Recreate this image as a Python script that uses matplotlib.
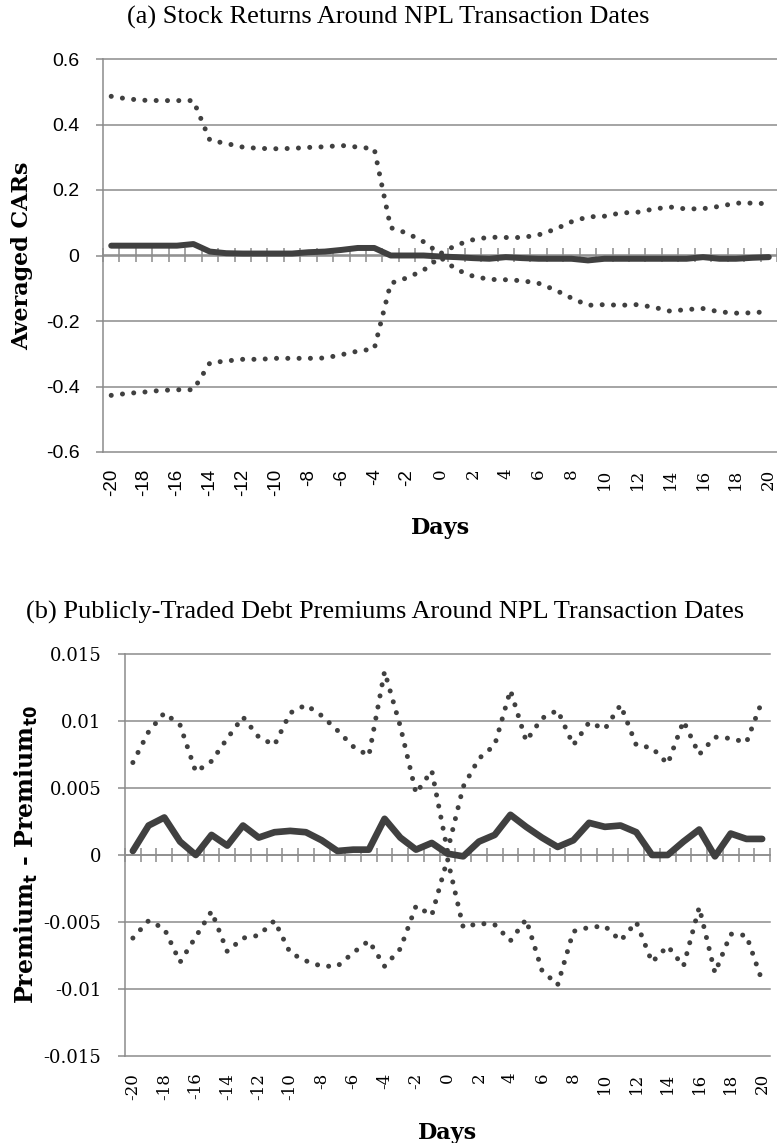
import matplotlib
matplotlib.use('Agg')
import matplotlib.pyplot as plt

# event window
days = list(range(-20, 21))

# (a) averaged CARs with confidence band
car_mean = [0.030, 0.030, 0.030, 0.030, 0.030, 0.035, 0.012, 0.007, 0.006, 0.006,
            0.006, 0.006, 0.010, 0.012, 0.017, 0.023, 0.023, 0.000, 0.000, 0.000,
            -0.003, -0.005, -0.008, -0.010, -0.005, -0.008, -0.010, -0.010, -0.010, -0.015,
            -0.010, -0.010, -0.010, -0.010, -0.010, -0.010, -0.005, -0.010, -0.010, -0.007,
            -0.005]
car_upper = [0.486, 0.478, 0.474, 0.473, 0.473, 0.473, 0.352, 0.342, 0.331, 0.327,
             0.326, 0.327, 0.330, 0.332, 0.336, 0.331, 0.326, 0.085, 0.068, 0.042,
             0.005, 0.032, 0.048, 0.056, 0.055, 0.055, 0.063, 0.080, 0.103, 0.118,
             0.120, 0.130, 0.132, 0.142, 0.148, 0.142, 0.143, 0.150, 0.160, 0.160,
             0.158]
car_lower = [-0.427, -0.421, -0.417, -0.412, -0.410, -0.410, -0.328, -0.322, -0.317, -0.317,
             -0.314, -0.314, -0.314, -0.313, -0.303, -0.292, -0.285, -0.085, -0.068, -0.045,
             -0.005, -0.043, -0.063, -0.073, -0.074, -0.077, -0.085, -0.105, -0.130, -0.152,
             -0.150, -0.152, -0.150, -0.158, -0.170, -0.165, -0.162, -0.172, -0.176, -0.175,
             -0.171]

# (b) debt premium change with confidence band
prem_mean = [0.0003, 0.0022, 0.0028, 0.0010, 0.0000, 0.0015, 0.0007, 0.0022, 0.0013, 0.0017,
             0.0018, 0.0017, 0.0011, 0.0003, 0.0004, 0.0004, 0.0027, 0.0013, 0.0004, 0.0009,
             0.0001, -0.0001, 0.0010, 0.0015, 0.0030, 0.0021, 0.0013, 0.0006, 0.0011, 0.0024,
             0.0021, 0.0022, 0.0017, 0.0000, 0.0000, 0.0010, 0.0019, -0.0001, 0.0016, 0.0012,
             0.0012]
prem_upper = [0.0069, 0.0092, 0.0106, 0.0097, 0.0062, 0.0070, 0.0087, 0.0103, 0.0088, 0.0082,
              0.0106, 0.0112, 0.0104, 0.0093, 0.0081, 0.0074, 0.0137, 0.0096, 0.0046, 0.0063,
              0.0003, 0.0051, 0.0072, 0.0082, 0.0123, 0.0085, 0.0102, 0.0108, 0.0082, 0.0099,
              0.0094, 0.0112, 0.0082, 0.0080, 0.0068, 0.0100, 0.0075, 0.0088, 0.0087, 0.0084,
              0.0115]
prem_lower = [-0.0062, -0.0049, -0.0055, -0.0080, -0.0061, -0.0042, -0.0072, -0.0062, -0.0060, -0.0049,
              -0.0073, -0.0079, -0.0083, -0.0083, -0.0073, -0.0064, -0.0083, -0.0070, -0.0038, -0.0045,
              -0.0003, -0.0054, -0.0051, -0.0052, -0.0064, -0.0048, -0.0086, -0.0097, -0.0057, -0.0054,
              -0.0053, -0.0064, -0.0050, -0.0080, -0.0068, -0.0083, -0.0039, -0.0088, -0.0059, -0.0060,
              -0.0094]

car_ticks = [0.6, 0.4, 0.2, 0, -0.2, -0.4, -0.6]
car_labels = ['0.6', '0.4', '0.2', '0', '-0.2', '-0.4', '-0.6']
prem_ticks = [0.015, 0.01, 0.005, 0, -0.005, -0.01, -0.015]
prem_labels = ['0.015', '0.01', '0.005', '0', '-0.005', '-0.01', '-0.015']
day_ticks = days[::2]
day_labels = [str(d) for d in day_ticks]

GRID = '#8c8c8c'
INK = '#404040'
SERIF = 'DejaVu Serif'
SANS = 'Liberation Sans'
DOTS = (0, (0.01, 2.25))


def draw_panel(ax, mean, upper, lower, yticks, ylabels, ylabel, ytick_font, xtick_font,
               mean_lw, ylab_x, ylab_size):
    ax.plot(days, upper, color=INK, lw=3.6, linestyle=DOTS, dash_capstyle='round', zorder=4)
    ax.plot(days, lower, color=INK, lw=3.6, linestyle=DOTS, dash_capstyle='round', zorder=4)
    ax.plot(days, mean, color=INK, lw=mean_lw, solid_joinstyle='round',
            solid_capstyle='round', zorder=5)

    ax.set_xlim(-20.5, 20.5)
    ax.set_ylim(yticks[-1], yticks[0])
    ax.set_yticks(yticks)
    ax.set_yticklabels(ylabels, fontfamily=ytick_font[0], fontsize=ytick_font[1])
    ax.grid(axis='y', color=GRID, lw=1.1)
    for gl in ax.yaxis.get_gridlines():
        gl.set_clip_on(False)
    ax.tick_params(axis='y', direction='out', length=5, width=1.1, color=GRID, pad=12)

    ax.set_xticks(day_ticks)
    ax.set_xticklabels(day_labels, rotation=90)
    for lab in ax.get_xticklabels():
        fam, size = xtick_font(lab.get_text())
        lab.set_fontfamily(fam)
        lab.set_fontsize(size)
    ax.tick_params(axis='x', length=0, pad=12)

    for s in ['top', 'right', 'bottom']:
        ax.spines[s].set_visible(False)
    ax.spines['left'].set_color(GRID)
    ax.spines['left'].set_linewidth(1.1)

    # category axis through zero with boundary ticks
    sec = ax.secondary_xaxis(0.5)
    sec.set_xticks([d - 0.5 for d in days] + [days[-1] + 0.5])
    sec.tick_params(direction='inout', length=10, width=1.1, color=GRID,
                    labelbottom=False, labeltop=False)
    for s in sec.spines.values():
        s.set_color(GRID)
        s.set_linewidth(1.1)

    ax.set_xlabel('Days', fontfamily=SERIF, fontweight='bold', fontsize=16)
    ax.xaxis.set_label_coords(0.5, -0.165)
    ax.set_ylabel(ylabel, fontfamily=SERIF, fontweight='bold', fontsize=ylab_size, va='center')
    ax.yaxis.set_label_coords(ylab_x, 0.5)


fig = plt.figure(figsize=(7.77, 11.43), dpi=100)

ax1 = fig.add_axes([103 / 777, 1 - 452 / 1143, 674 / 777, 393 / 1143])
draw_panel(ax1, car_mean, car_upper, car_lower, car_ticks, car_labels,
           'Averaged CARs', (SANS, 14),
           lambda t: (SANS, 13.5) if t.startswith('-') else (SERIF, 12),
           4.3, -0.12, 16)
fig.text(388 / 777, 1 - 17 / 1143, '(a) Stock Returns Around NPL Transaction Dates',
         ha='center', va='center', fontfamily='Liberation Serif', fontsize=19)

ax2 = fig.add_axes([125 / 777, 1 - 1056 / 1143, 645 / 777, 402 / 1143])
draw_panel(ax2, prem_mean, prem_upper, prem_lower, prem_ticks, prem_labels,
           r'Premium$_{\mathbf{t}}$ - Premium$_{\mathbf{t0}}$', (SERIF, 13),
           lambda t: (SERIF, 12), 4.8, -0.153, 17)
fig.text(385 / 777, 1 - 612 / 1143, '(b) Publicly-Traded Debt Premiums Around NPL Transaction Dates',
         ha='center', va='center', fontfamily='Liberation Serif', fontsize=19)

fig.savefig('out.png', dpi=100)
